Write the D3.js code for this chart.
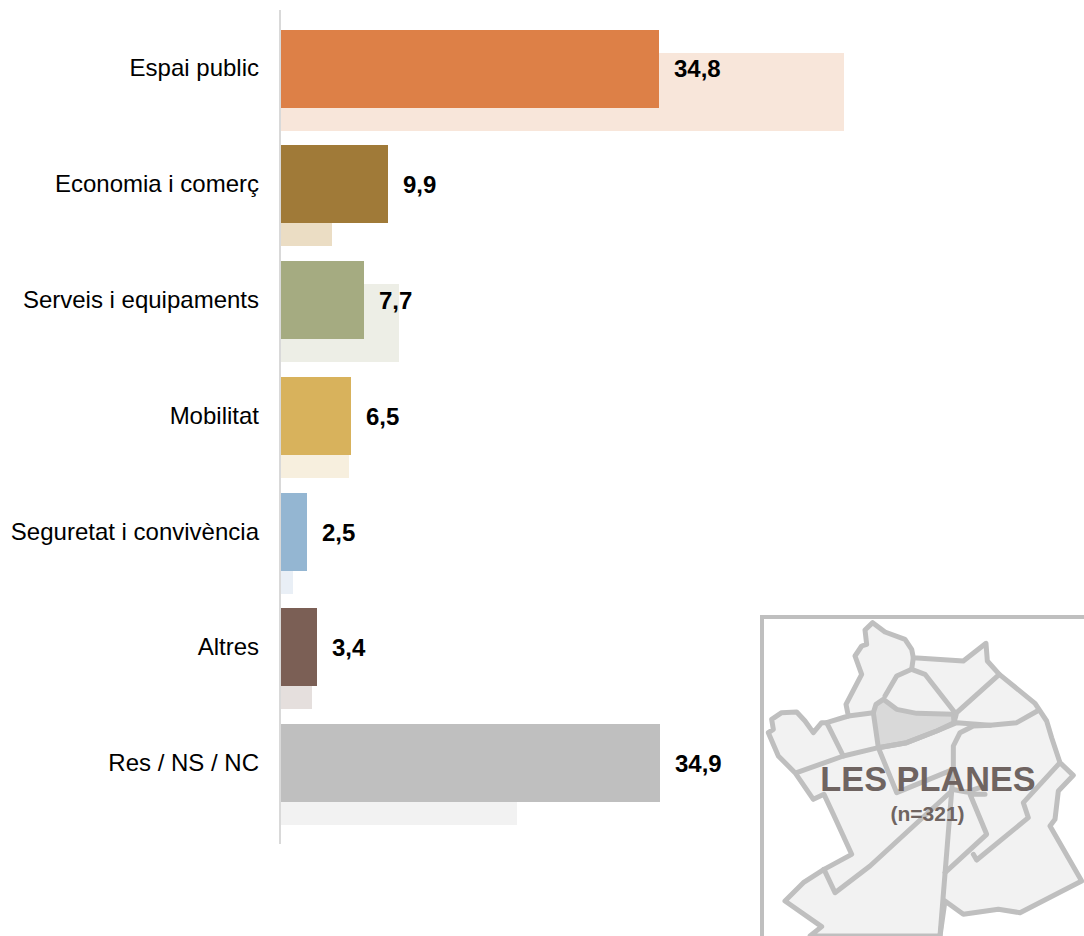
<!DOCTYPE html>
<html><head><meta charset="utf-8">
<style>html,body{margin:0;padding:0;background:#fff}svg{display:block}text{font-family:"Liberation Sans",Arial,sans-serif}</style>
<script src="https://cdn.jsdelivr.net/npm/d3@7/dist/d3.min.js"></script>
</head><body><script>
const categories=["Espai public","Economia i comerç","Serveis i equipaments","Mobilitat","Seguretat i convivència","Altres","Res / NS / NC"];
const valueLabels=["34,8","9,9","7,7","6,5","2,5","3,4","34,9"];
const current=[34.8,9.9,7.7,6.5,2.5,3.4,34.9];
const previous=[51.8,4.8,10.9,6.3,1.2,2.95,21.8];
const colors=["#DD8047","#A07A38","#A5AB81","#D8B25C","#94B6D2","#7B5F55","#BFBFBF"];
const paleColors=["#F8E6DA","#EBDDC4","#EDEEE6","#F7EFDE","#E9EFF6","#E5DFDD","#F2F2F2"];
const mapTitle="LES PLANES", mapSub="(n=321)";
// Map shapes (zoomed-crop units)
const mapOutline=[[368,50],[405,78],[465,100],[485,130],[490,155],[640,165],[708,112],[712,165],[748,205],[855,292],[890,345],[905,395],[930,470],[970,508],[925,555],[915,640],[900,660],[995,825],[810,920],[745,910],[640,925],[585,885],[570,990],[180,990],[215,962],[105,885],[160,830],[222,790],[305,745],[250,625],[222,565],[190,580],[135,500],[85,450],[55,380],[70,370],[65,340],[95,320],[140,318],[165,345],[190,380],[215,350],[230,350],[295,330],[288,295],[335,205],[315,150],[335,120],[350,115],[345,72]];
const mapHighlight=[[400,280],[440,310],[500,322],[610,325],[612,350],[560,375],[470,410],[385,425],[370,320],[378,295]];
const mapLines=[
 [[490,155],[485,190],[525,205],[615,320]],
 [[485,190],[440,210],[405,270]],
 [[748,205],[620,320],[612,350]],
 [[295,330],[370,320]],
 [[230,350],[280,450]],
 [[140,500],[280,450],[385,425],[470,410],[560,375],[620,350],[720,358],[800,350],[862,315]],
 [[385,425],[440,560],[610,490],[610,420],[630,380],[670,360],[720,358]],
 [[610,490],[605,555],[360,780],[255,860],[222,790]],
 [[605,555],[570,990]],
 [[585,800],[710,685],[660,565],[705,565]],
 [[605,550],[650,558],[690,545]],
 [[930,470],[820,590],[835,635],[680,762],[670,745]]
];

const W=1084,H=936;
const svg=d3.select("body").append("svg").attr("width",W).attr("height",H);
const x=d3.scaleLinear().domain([0,34.8]).range([280.4,659.4]);
const y=d3.scaleBand().domain(categories).range([29.7,29.7+7*115.7]);
const barH=78, off=23, x0=281;
const yTop=i=>Math.round(y(categories[i]));
const xEnd=d=>Math.floor(x(d));

svg.append("g").selectAll("rect").data(previous).join("rect")
 .attr("x",x0).attr("y",(d,i)=>yTop(i)+off).attr("width",d=>xEnd(d)-x0).attr("height",barH)
 .attr("fill",(d,i)=>paleColors[i]);
svg.append("g").selectAll("rect").data(current).join("rect")
 .attr("x",x0).attr("y",(d,i)=>yTop(i)).attr("width",d=>xEnd(d)-x0).attr("height",barH)
 .attr("fill",(d,i)=>colors[i]);
svg.append("line").attr("x1",280).attr("x2",280).attr("y1",10).attr("y2",844).attr("stroke","#d9d9d9").attr("stroke-width",2);
svg.append("g").selectAll("text").data(categories).join("text")
 .attr("x",259).attr("y",(d,i)=>yTop(i)+(i===0?46:47)).attr("text-anchor","end")
 .attr("font-size",24).attr("fill","#000").text(d=>d);
svg.append("g").selectAll("text").data(current).join("text")
 .attr("x",d=>xEnd(d)+15).attr("y",(d,i)=>yTop(i)+(i===0?47:48))
 .attr("font-size",24).attr("font-weight","bold").attr("fill","#000").text((d,i)=>valueLabels[i]);

const mx=d3.scaleLinear().domain([0,1002]).range([750,1084]);
const my=d3.scaleLinear().domain([0,990]).range([606,936]);
const line=d3.line().x(d=>mx(d[0])).y(d=>my(d[1]));
const poly=d3.line().x(d=>mx(d[0])).y(d=>my(d[1])).curve(d3.curveLinearClosed);
const m=svg.append("g");
m.append("path").attr("d",poly(mapOutline)).attr("fill","#f2f2f2").attr("stroke","#bfbfbf").attr("stroke-width",5).attr("stroke-linejoin","round");
m.append("path").attr("d",poly(mapHighlight)).attr("fill","#d9d9d9").attr("stroke","#bfbfbf").attr("stroke-width",5).attr("stroke-linejoin","round");
m.selectAll(".l").data(mapLines).join("path").attr("class","l").attr("d",line).attr("fill","none").attr("stroke","#bfbfbf").attr("stroke-width",5).attr("stroke-linejoin","round").attr("stroke-linecap","round");
svg.append("path").attr("d",`M${W},617H762V${H}`).attr("fill","none").attr("stroke","#bfbfbf").attr("stroke-width",4);
svg.append("text").attr("x",928).attr("y",791).attr("text-anchor","middle").attr("font-size",34.3).attr("font-weight","bold").attr("fill","#6F6461").text(mapTitle);
svg.append("text").attr("x",927.5).attr("y",821).attr("text-anchor","middle").attr("font-size",21).attr("font-weight","bold").attr("fill","#6F6461").text(mapSub);
</script></body></html>
